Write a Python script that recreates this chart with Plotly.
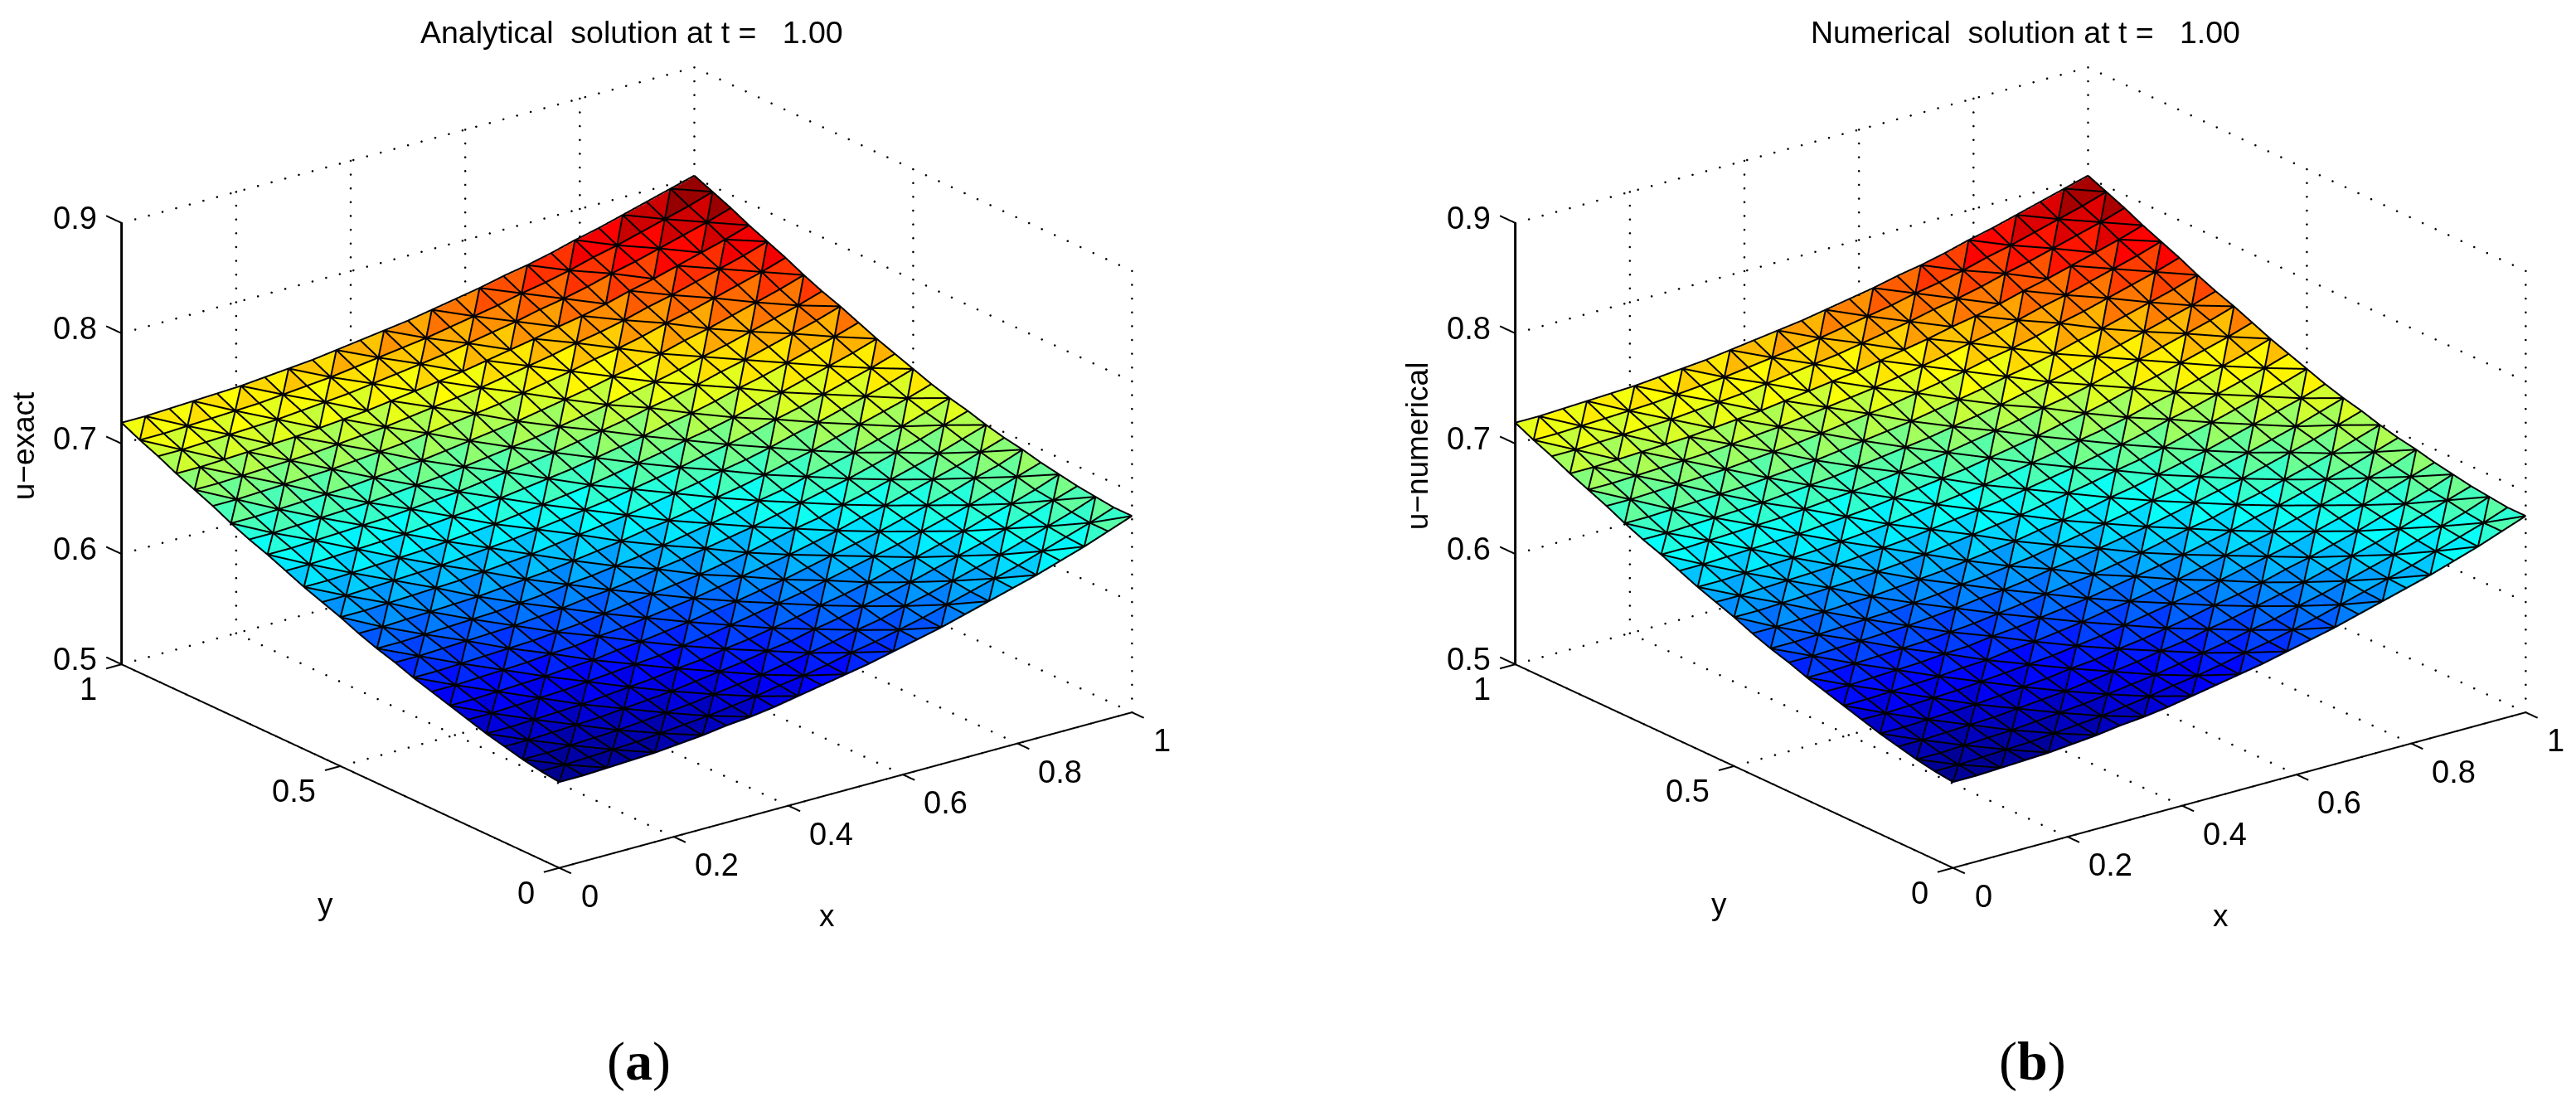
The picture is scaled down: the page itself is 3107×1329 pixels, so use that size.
"""Analytical and numerical solution surfaces at t = 1, side by side."""

import plotly.graph_objects as go

grid_x = [i / 24 for i in range(25)]
grid_y = [j / 24 for j in range(25)]

# u at the mesh nodes in thousandths; one row per y, y = 0 first
u_rows = [
    [577, 577, 578, 579, 580, 582, 584, 587, 589, 592, 596, 600, 604, 608, 613, 618, 623, 629, 635, 641, 647, 654, 661, 669, 677],
    [579, 579, 580, 581, 582, 584, 586, 588, 591, 594, 598, 601, 605, 610, 614, 619, 624, 630, 636, 642, 648, 655, 662, 669, 677],
    [582, 582, 583, 584, 585, 587, 589, 591, 594, 597, 600, 604, 608, 612, 617, 621, 627, 632, 638, 644, 650, 657, 664, 671, 679],
    [586, 586, 587, 588, 589, 591, 593, 595, 598, 601, 604, 608, 611, 616, 620, 625, 630, 635, 641, 647, 653, 660, 667, 674, 681],
    [590, 590, 591, 592, 593, 595, 597, 599, 602, 604, 608, 611, 615, 619, 624, 628, 633, 639, 644, 650, 656, 663, 669, 676, 684],
    [595, 595, 596, 597, 598, 600, 602, 604, 606, 609, 612, 616, 620, 624, 628, 633, 638, 643, 648, 654, 660, 666, 673, 680, 687],
    [600, 600, 601, 602, 603, 605, 606, 609, 611, 614, 617, 621, 624, 628, 632, 637, 642, 647, 652, 658, 664, 670, 677, 683, 691],
    [605, 605, 606, 607, 608, 610, 611, 614, 616, 619, 622, 625, 629, 633, 637, 641, 646, 651, 657, 662, 668, 674, 680, 687, 694],
    [610, 610, 611, 612, 613, 614, 616, 618, 621, 624, 627, 630, 633, 637, 641, 646, 651, 655, 661, 666, 672, 678, 684, 691, 698],
    [616, 616, 617, 618, 619, 620, 622, 624, 627, 629, 632, 636, 639, 643, 647, 651, 656, 661, 666, 671, 677, 683, 689, 696, 703],
    [621, 621, 622, 623, 624, 625, 627, 629, 632, 634, 637, 640, 644, 648, 652, 656, 661, 665, 671, 676, 681, 687, 693, 700, 707],
    [627, 627, 628, 629, 630, 631, 633, 635, 637, 640, 643, 646, 650, 653, 657, 662, 666, 671, 676, 681, 687, 693, 699, 705, 712],
    [634, 634, 635, 636, 637, 638, 640, 642, 644, 647, 650, 653, 656, 660, 664, 668, 673, 677, 682, 688, 693, 699, 705, 711, 718],
    [640, 640, 641, 642, 643, 644, 646, 648, 650, 653, 656, 659, 662, 666, 670, 674, 679, 683, 688, 694, 699, 705, 711, 717, 724],
    [646, 646, 647, 648, 649, 650, 652, 654, 656, 659, 662, 665, 668, 672, 676, 680, 685, 689, 694, 700, 705, 711, 717, 723, 730],
    [653, 653, 654, 655, 656, 657, 659, 661, 663, 666, 669, 672, 675, 679, 683, 687, 692, 696, 701, 707, 712, 718, 724, 730, 737],
    [660, 660, 661, 662, 663, 664, 666, 668, 670, 673, 676, 679, 682, 686, 690, 694, 699, 703, 708, 714, 719, 725, 731, 737, 744],
    [666, 666, 667, 668, 669, 670, 672, 674, 676, 679, 682, 685, 688, 692, 696, 700, 705, 709, 714, 720, 725, 731, 737, 743, 750],
    [673, 673, 674, 675, 676, 677, 679, 681, 683, 686, 689, 692, 695, 699, 703, 707, 712, 716, 721, 727, 732, 738, 744, 750, 757],
    [681, 681, 682, 683, 684, 685, 687, 689, 691, 694, 697, 700, 703, 707, 711, 715, 720, 724, 729, 735, 740, 746, 752, 758, 765],
    [688, 688, 689, 690, 691, 692, 694, 696, 698, 701, 704, 707, 710, 714, 718, 722, 727, 731, 736, 742, 747, 753, 759, 765, 772],
    [695, 695, 696, 697, 698, 699, 701, 703, 705, 708, 711, 714, 717, 721, 725, 729, 734, 738, 743, 749, 754, 760, 766, 772, 779],
    [703, 703, 704, 705, 706, 707, 709, 711, 713, 716, 719, 722, 725, 729, 733, 737, 742, 746, 751, 757, 762, 768, 774, 780, 787],
    [710, 710, 711, 712, 713, 714, 716, 718, 720, 723, 726, 729, 732, 736, 740, 744, 749, 753, 758, 764, 769, 775, 781, 787, 794],
    [718, 718, 719, 720, 721, 722, 724, 726, 728, 731, 734, 737, 740, 744, 748, 752, 757, 761, 766, 772, 777, 783, 789, 795, 801],
]

x_ticks = [0, 0.2, 0.4, 0.6, 0.8, 1]
y_ticks = [0, 0.5, 1]
z_ticks = [0.5, 0.6, 0.7, 0.8, 0.9]

titles = ["Analytical\u00a0 solution at t =\u00a0\u00a0 1.00", "Numerical\u00a0 solution at t =\u00a0\u00a0 1.00"]
z_labels = ["u\u2212exact", "u\u2212numerical"]
panel_tags = ["(<b>a</b>)", "(<b>b</b>)"]
color_top = [0.801, 0.805]

# MATLAB jet
jet = [
    [0.0, "rgb(0,0,143)"],
    [0.1094, "rgb(0,0,255)"],
    [0.3594, "rgb(0,255,255)"],
    [0.6094, "rgb(255,255,0)"],
    [0.8594, "rgb(255,0,0)"],
    [1.0, "rgb(128,0,0)"],
]

FONT = "Liberation Sans"
TICK_SIZE = 38
PAGE_MARGIN = 8  # body margin of the written page
W, H = 3107 - 2 * PAGE_MARGIN, 1329 - 2 * PAGE_MARGIN
BOX_SCALE = 1.575  # orthographic zoom is set by the aspect ratio, not the eye
PAD = 0.05  # x and y ranges run past 0..1 so the tick marks are not clipped
Z_PAD = 0.01
DOTS_PER_SIDE = {"x": 42, "y": 34, "z": 32}
TICK_LEN = 0.027
AXIS_PIECES = 40


def paper_x(px):
    return (px - PAGE_MARGIN) / W


def paper_y(px):
    return 1 - (px - PAGE_MARGIN) / H


def mesh_triangles():
    """Split each cell along one diagonal, union-jack style, with a seam near y = 1.

    The first vertex of each triangle sets its flat colour.
    """
    tris = []
    for j in range(24):
        for i in range(24):
            a = j * 25 + i
            b = a + 1
            c = a + 25
            d = c + 1
            flip = 1 if j >= 21 else 0
            if (i + j + flip) % 2 == 0:
                tris += [(d, a, b), (a, d, c)]
            else:
                tris += [(b, c, a), (c, b, d)]
    return tris


def segments(pairs):
    """Flatten ((x, y, z), (x, y, z)) pairs into gap separated line arrays."""
    xs, ys, zs = [], [], []
    for p, q in pairs:
        xs += [p[0], q[0], None]
        ys += [p[1], q[1], None]
        zs += [p[2], q[2], None]
    return xs, ys, zs


def grid_pairs():
    z0, z1 = z_ticks[0], z_ticks[-1]
    pairs = []
    for x in x_ticks:
        pairs.append(((x, 0, z0), (x, 1, z0)))
        if x > 0:
            pairs.append(((x, 1, z0), (x, 1, z1)))
    for y in y_ticks:
        pairs.append(((0, y, z0), (1, y, z0)))
        pairs.append(((1, y, z0), (1, y, z1)))
    for z in z_ticks:
        pairs.append(((0, 1, z), (1, 1, z)))
        pairs.append(((1, 1, z), (1, 0, z)))
    return pairs


def pieces(p, q):
    """Cut a long axis line into short pieces, gl3d thins out long segments."""
    out = []
    for s in range(AXIS_PIECES):
        t0, t1 = s / AXIS_PIECES, (s + 1) / AXIS_PIECES
        out.append(
            (
                tuple(p[k] + (q[k] - p[k]) * t0 for k in range(3)),
                tuple(p[k] + (q[k] - p[k]) * t1 for k in range(3)),
            )
        )
    return out


def axis_pairs():
    """Solid axis lines and their tick marks."""
    z0, z1 = z_ticks[0], z_ticks[-1]
    pairs = pieces((0, 0, z0), (1, 0, z0)) + pieces((0, 0, z0), (0, 1, z0))
    pairs += [((x, 0, z0), (x, -TICK_LEN, z0)) for x in x_ticks]
    pairs += [((0, y, z0), (-TICK_LEN, y, z0)) for y in y_ticks]
    pairs += [((0, 1, z), (0, 1 + TICK_LEN * 1.3, z)) for z in z_ticks]
    return pairs


def dotted(pairs):
    """Sample the grid segments into separate dots, gl3d dashes are too coarse."""
    xs, ys, zs = [], [], []
    for p, q in pairs:
        side = "x" if p[0] != q[0] else "y" if p[1] != q[1] else "z"
        n = DOTS_PER_SIDE[side]
        for s in range(n + 1):
            t = s / n
            xs.append(p[0] + (q[0] - p[0]) * t)
            ys.append(p[1] + (q[1] - p[1]) * t)
            zs.append(p[2] + (q[2] - p[2]) * t)
    return xs, ys, zs


def label(x, y, z, text, dx, dy, size=TICK_SIZE, angle=0):
    """Scene annotation placed by pixel offset from a data point, dy down."""
    return {
        "x": x, "y": y, "z": z, "text": text, "showarrow": False,
        "xshift": dx, "yshift": -dy, "xanchor": "center", "yanchor": "middle", "textangle": angle,
        "font": {"family": FONT, "size": size, "color": "black"},
    }


def axis(rng):
    return {"range": rng, "visible": False, "showspikes": False}


xs = [x for _ in grid_y for x in grid_x]
ys = [y for y in grid_y for _ in grid_x]
zs = [v / 1000 for row in u_rows for v in row]
tris = mesh_triangles()
cell_u = [zs[t[0]] for t in tris]

edges = set()
for a, b, c in tris:
    for p, q in ((a, b), (b, c), (c, a)):
        edges.add((min(p, q), max(p, q)))
edge_pairs = [((xs[p], ys[p], zs[p] + 0.001), (xs[q], ys[q], zs[q] + 0.001)) for p, q in sorted(edges)]

fig = go.Figure()
layout_scenes = {}
annotations = []
centers = [755.5, 2436.5]
half_w = 650
center_y = 564
half_h = 552

for n, center in enumerate(centers):
    scene = "scene" if n == 0 else "scene2"
    fig.add_trace(
        go.Mesh3d(
            x=xs,
            y=ys,
            z=zs,
            i=[t[0] for t in tris],
            j=[t[1] for t in tris],
            k=[t[2] for t in tris],
            intensity=cell_u,
            intensitymode="cell",
            colorscale=jet,
            cmin=0.577,
            cmax=color_top[n],
            showscale=False,
            flatshading=True,
            lighting={"ambient": 1, "diffuse": 0, "specular": 0, "roughness": 1, "fresnel": 0},
            scene=scene,
            hoverinfo="skip",
        )
    )
    ex, ey, ez = segments(edge_pairs)
    fig.add_trace(
        go.Scatter3d(
            x=ex, y=ey, z=ez, mode="lines", line={"color": "black", "width": 4},
            scene=scene, showlegend=False, hoverinfo="skip",
        )
    )
    gx, gy, gz = dotted(grid_pairs())
    fig.add_trace(
        go.Scatter3d(
            x=gx, y=gy, z=gz, mode="markers", marker={"color": "black", "size": 1.5, "line": {"width": 0}},
            scene=scene, showlegend=False, hoverinfo="skip",
        )
    )
    ax, ay, az = segments(axis_pairs())
    fig.add_trace(
        go.Scatter3d(
            x=ax, y=ay, z=az, mode="lines", line={"color": "black", "width": 4},
            scene=scene, showlegend=False, hoverinfo="skip",
        )
    )
    # z axis on its own, vertical lines come out thinner in gl3d
    vx, vy, vz = segments(pieces((0, 1, z_ticks[0]), (0, 1, z_ticks[-1])))
    fig.add_trace(
        go.Scatter3d(
            x=vx, y=vy, z=vz, mode="lines", line={"color": "black", "width": 6},
            scene=scene, showlegend=False, hoverinfo="skip",
        )
    )

    scene_notes = []
    for x in x_ticks:
        dx = 37 if x in (0, 1) else 52
        scene_notes.append(label(x, 0, 0.5, f"{x:g}", dx, 34))
    for y in y_ticks:
        dx = -56 if y == 0.5 else -40
        scene_notes.append(label(0, y, 0.5, f"{y:g}", dx, 30))
    for z in z_ticks:
        scene_notes.append(label(0, 1, z, f"{z:g}", -56, -6))
    scene_notes.append(label(0.5, 0, 0.5, "x", -22, 152, size=37))
    scene_notes.append(label(0, 0.5, 0.5, "y", -18, 167, size=37))
    scene_notes.append(label(0, 1, 0.7, z_labels[n], -118, 3, size=37, angle=-90))

    box = BOX_SCALE * (1 + 2 * PAD)
    z_span = z_ticks[-1] - z_ticks[0]
    layout_scenes[scene] = {
        "domain": {
            "x": [paper_x(center - half_w), paper_x(center + half_w)],
            "y": [paper_y(center_y + half_h), paper_y(center_y - half_h)],
        },
        "aspectmode": "manual",
        "aspectratio": {"x": box, "y": box, "z": 0.655 * BOX_SCALE * (z_span + 2 * Z_PAD) / z_span},
        "camera": {
            "projection": {"type": "orthographic"},
            "up": {"x": 0, "y": 0, "z": 1},
            "center": {"x": 0, "y": 0, "z": 0},
            "eye": {"x": -0.567 * 1.8, "y": -0.742 * 1.8, "z": 0.355 * 1.8},
        },
        "xaxis": axis([-PAD, 1 + PAD]),
        "yaxis": axis([-PAD, 1 + PAD]),
        "zaxis": axis([z_ticks[0] - Z_PAD, z_ticks[-1] + Z_PAD]),
        "annotations": scene_notes,
    }
    annotations.append(
        {
            "text": titles[n], "x": paper_x(center + 6), "y": paper_y(39), "xref": "paper", "yref": "paper",
            "xanchor": "center", "yanchor": "middle",
            "showarrow": False, "font": {"family": FONT, "size": 37.5, "color": "black"},
        }
    )
    annotations.append(
        {
            "text": panel_tags[n], "x": paper_x(center + 15), "y": paper_y(1280), "xref": "paper", "yref": "paper",
            "xanchor": "center", "yanchor": "middle",
            "showarrow": False, "font": {"family": "Liberation Serif", "size": 66, "color": "black"},
        }
    )

fig.update_layout(
    width=W,
    height=H,
    margin={"l": 0, "r": 0, "t": 0, "b": 0},
    paper_bgcolor="white",
    showlegend=False,
    annotations=annotations,
    **layout_scenes,
)

fig.write_html("out.html")
